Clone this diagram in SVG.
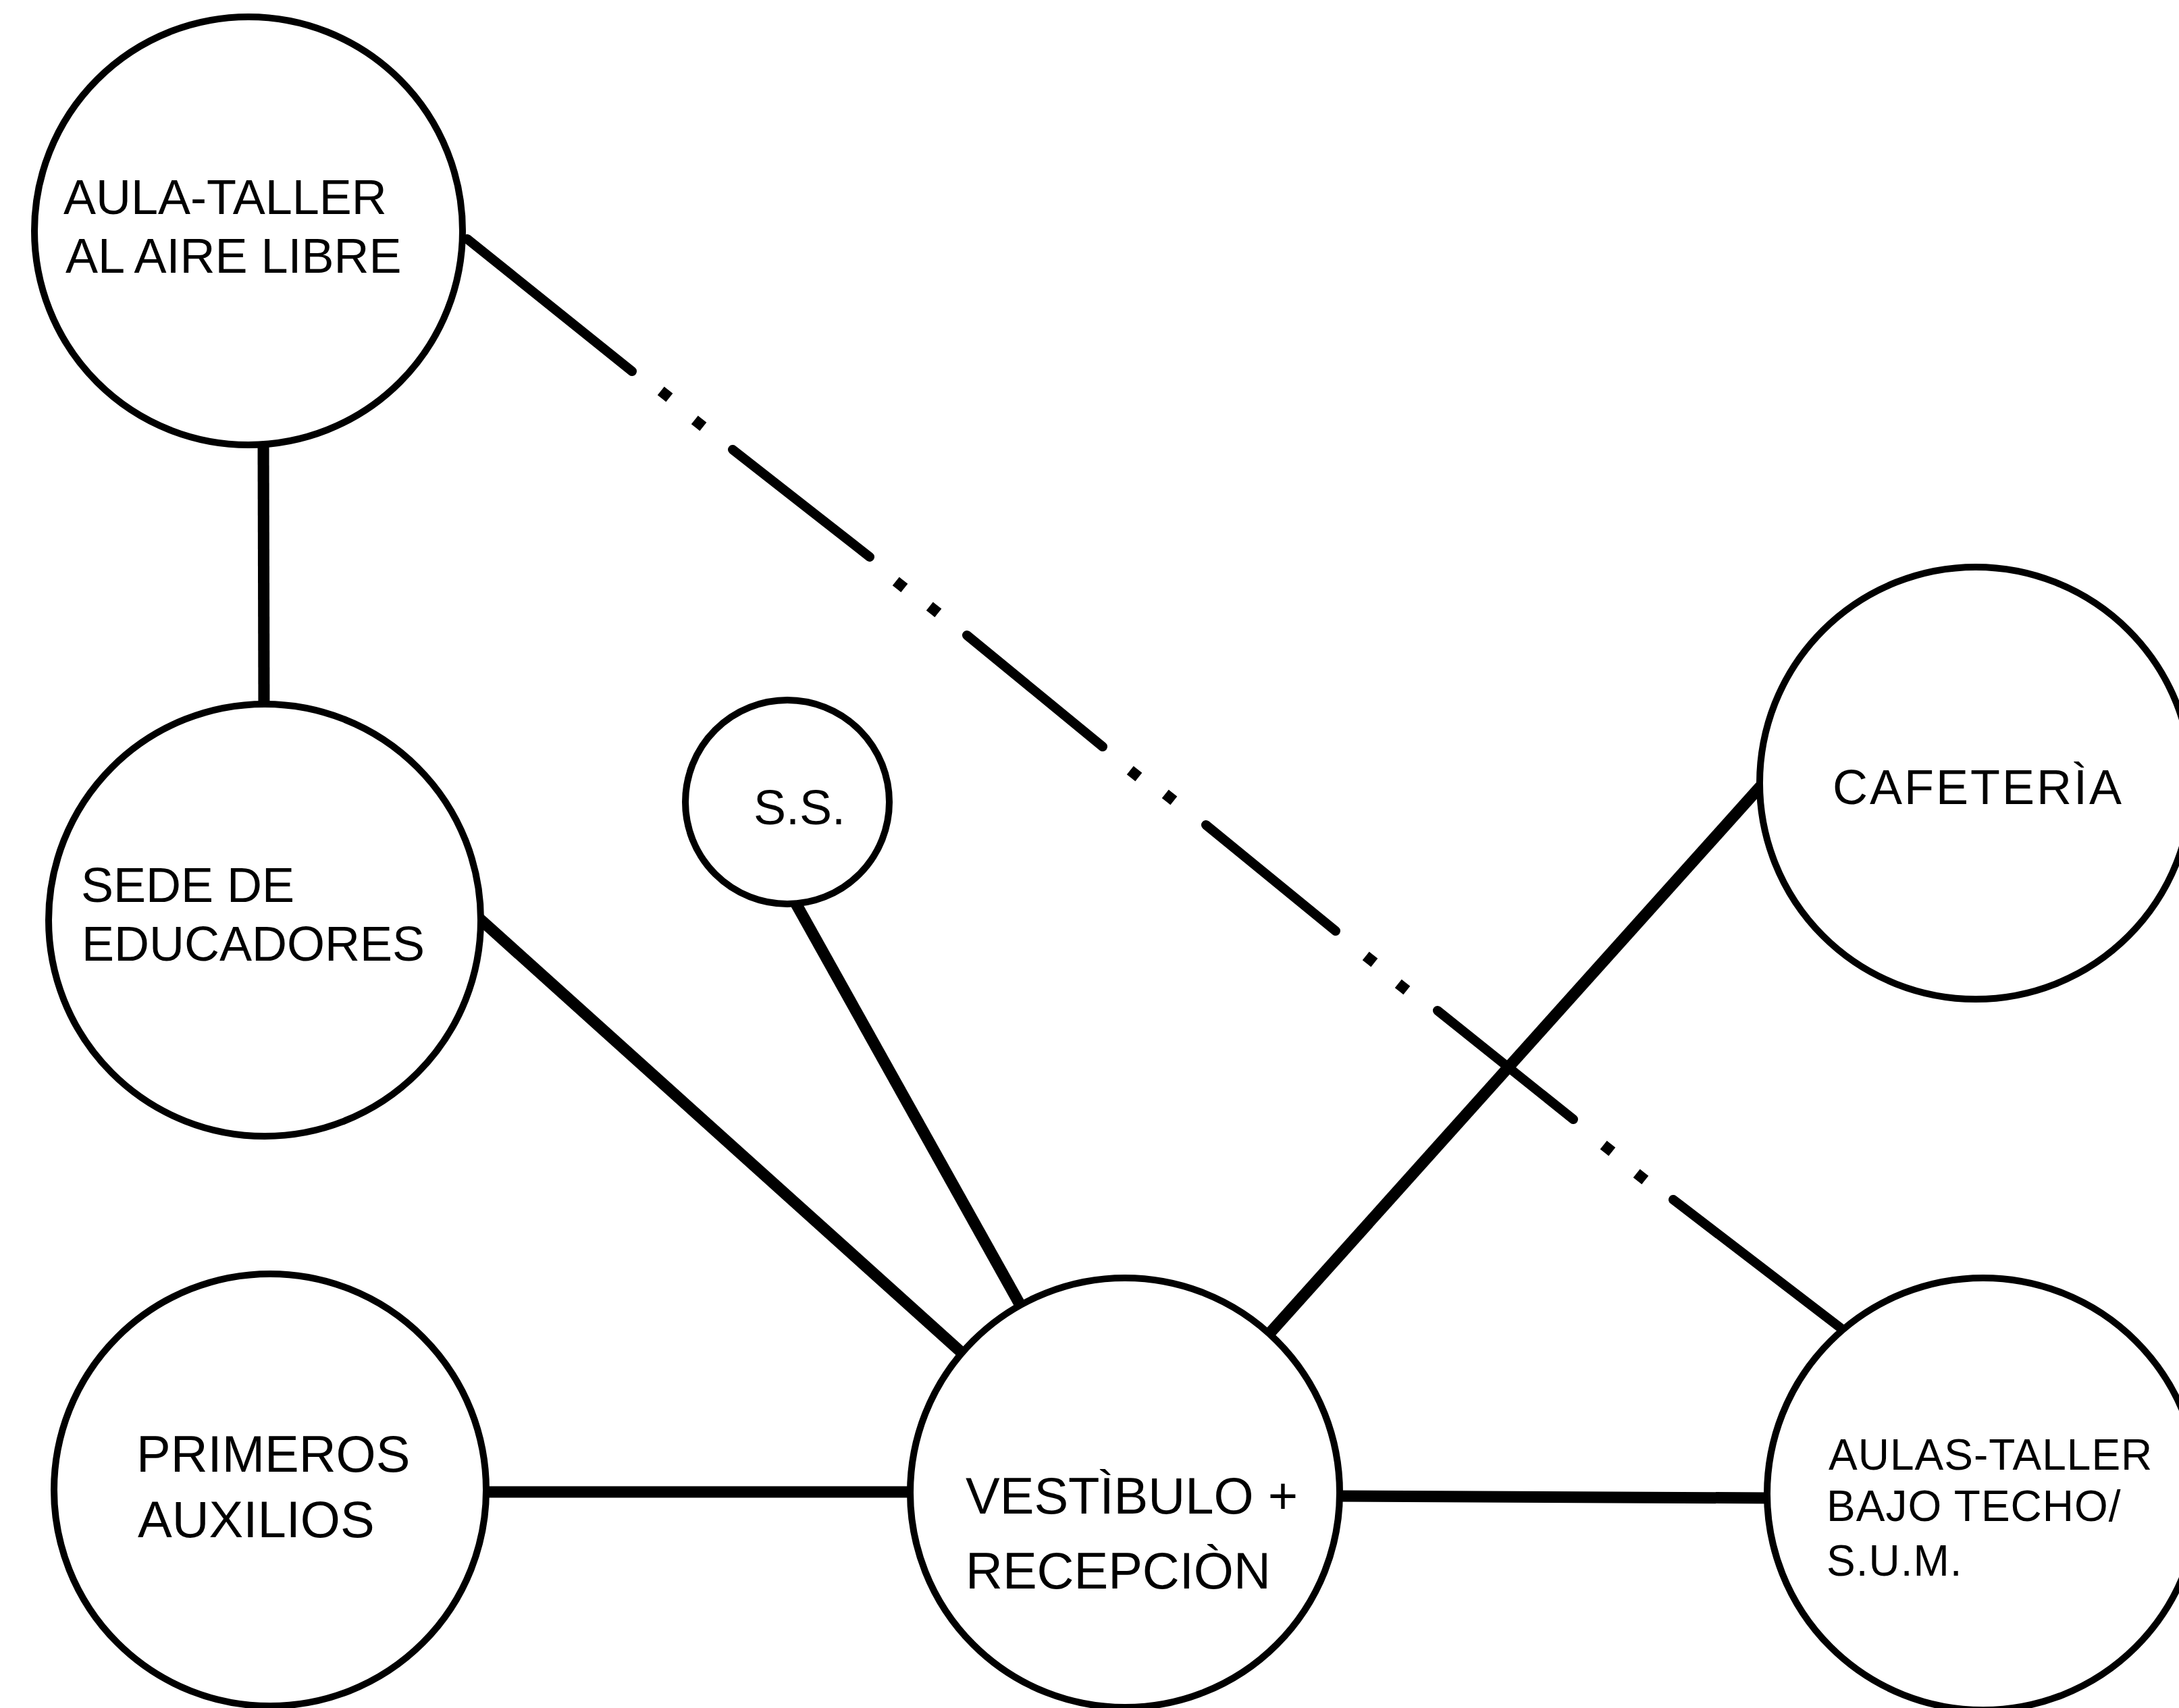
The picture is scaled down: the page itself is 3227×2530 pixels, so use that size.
<svg xmlns="http://www.w3.org/2000/svg" width="3227" height="2530" viewBox="0 0 3227 2530">
<style>
.node circle{fill:#fff;stroke:#000;stroke-width:10}
.node text{font-family:"Liberation Sans",Arial,sans-serif;fill:#000}
.t72{font-size:72px}
.t76{font-size:76px}
.t64{font-size:64px;letter-spacing:1px}
.conn{stroke:#000;stroke-width:17;fill:none;stroke-linecap:butt}
.dash{stroke:#000;stroke-width:14;fill:none;stroke-linecap:round}
.dot{stroke:#000;stroke-width:16;fill:none;stroke-linecap:square}
</style>
<rect width="3227" height="2530" fill="#fff"/>
<g id="connectors">
<line class="conn" x1="390" y1="650" x2="391" y2="1050"/>
<line class="conn" x1="706" y1="1357" x2="1428" y2="2007"/>
<line class="conn" x1="1174" y1="1330" x2="1512" y2="1935"/>
<line class="conn" x1="1874" y1="1982" x2="2607" y2="1165"/>
<line class="conn" x1="714" y1="2210" x2="1353" y2="2210"/>
<line class="conn" x1="1979" y1="2216" x2="2622" y2="2219"/>
<path class="dash" d="M692 354L936 550M1085 666L1288 825M1432 941L1633 1106M1786 1222L1978 1379M2129 1497L2330 1658M2478 1777L2731 1971"/>
<path class="dot" d="M985 584l0.1 0.08M1035 627l0.1 0.08M1333 866l0.1 0.08M1383 903l0.1 0.08M1680 1146l0.1 0.08M1732 1181l0.1 0.08M2029 1421l0.1 0.08M2077 1462l0.1 0.08M2381 1701l0.1 0.08M2430 1743l0.1 0.08"/>
</g>
<g id="aula-taller" class="node">
<circle cx="368" cy="342" r="317"/>
<text class="t72" x="94" y="317">AULA-TALLER</text>
<text class="t72" x="97" y="404">AL AIRE LIBRE</text>
</g>
<g id="sede" class="node">
<circle cx="392" cy="1363" r="320"/>
<text class="t72" x="120" y="1336">SEDE DE</text>
<text class="t72" x="121" y="1423">EDUCADORES</text>
</g>
<g id="ss" class="node">
<circle cx="1166" cy="1188" r="151"/>
<text class="t72" x="1116" y="1221">S.S.</text>
</g>
<g id="cafeteria" class="node">
<circle cx="2926" cy="1160" r="320"/>
<text class="t72" x="2714" y="1191" letter-spacing="3">CAFETERÌA</text>
</g>
<g id="primeros" class="node">
<circle cx="400" cy="2207" r="320"/>
<text class="t76" x="202" y="2180">PRIMEROS</text>
<text class="t76" x="204" y="2277">AUXILIOS</text>
</g>
<g id="vestibulo" class="node">
<circle cx="1666" cy="2211" r="318"/>
<text class="t76" x="1430" y="2242">VESTÌBULO +</text>
<text class="t76" x="1430" y="2353">RECEPCIÒN</text>
</g>
<g id="aulas-taller" class="node">
<circle cx="2937" cy="2213" r="320"/>
<text class="t64" x="2708" y="2177">AULAS-TALLER</text>
<text class="t64" x="2705" y="2253">BAJO TECHO/</text>
<text class="t64" x="2705" y="2334">S.U.M.</text>
</g>
</svg>
